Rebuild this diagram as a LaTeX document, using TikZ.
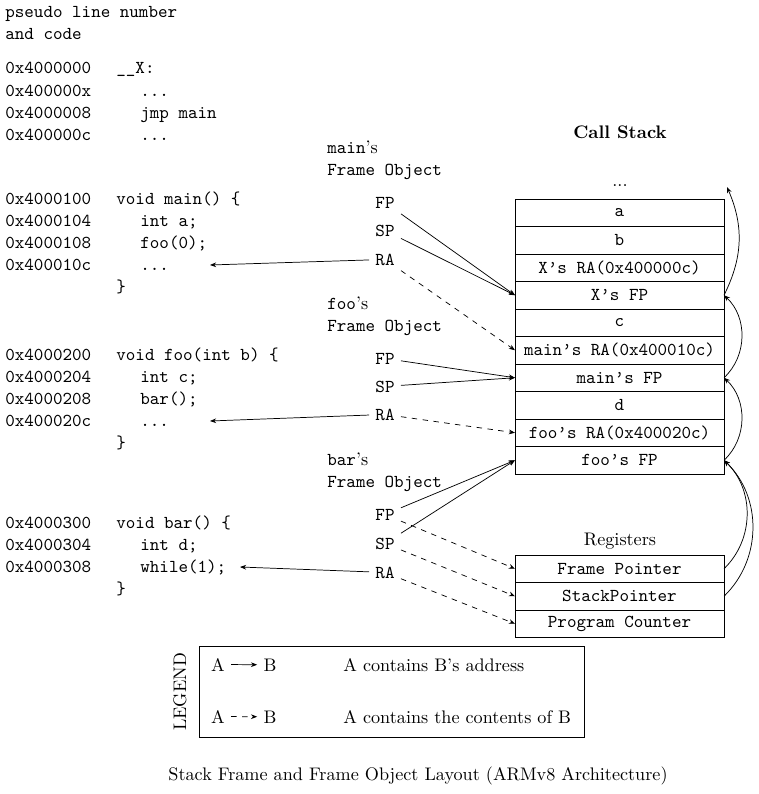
\documentclass[tikz,border=0pt]{standalone}
\usetikzlibrary{arrows.meta}
\newcommand{\tq}{\textquoteright}
\begin{document}
\begin{tikzpicture}[x=0.55pt,y=-0.55pt,
  code/.style={anchor=base west, inner sep=0pt, font=\ttfamily},
  label/.style={anchor=base west, inner sep=0pt, font=\ttfamily},
  ptr/.style={anchor=base, font=\ttfamily},
  cell/.style={draw, minimum width=114.95pt, minimum height=15.125pt, inner sep=0pt, outer sep=0pt, font=\ttfamily, anchor=north},
  addr/.style={-{Stealth[length=3.4pt,width=2.6pt]}},
  cont/.style={addr, dashed}
]
\useasboundingbox (0,0) rectangle (759,794);

% header of the code column
\node[code] (hd1) at (5,18) {pseudo line number};
\node[code] (hd2) at (5,40) {and code};

% startup code
\node[code] (a00) at (5,74)  {0x4000000};  \node[code] (c00) at (116,74)  {\char95\char95X:};
\node[code] (a01) at (5,96)  {0x400000x};  \node[code] (c01) at (140,96)  {...};
\node[code] (a02) at (5,118) {0x4000008};  \node[code] (c02) at (140,118) {jmp main};
\node[code] (a03) at (5,140) {0x400000c};  \node[code] (c03) at (140,140) {...};

% main
\node[code] (a10) at (5,204) {0x4000100};  \node[code] (c10) at (116,204) {void main() \char123};
\node[code] (a11) at (5,226) {0x4000104};  \node[code] (c11) at (140,226) {int a;};
\node[code] (a12) at (5,248) {0x4000108};  \node[code] (c12) at (140,248) {foo(0);};
\node[code] (a13) at (5,270) {0x400010c};  \node[code] (c13) at (140,270) {...};
\node[code] (c14) at (116,292) {\char125};
\coordinate (mainret) at (210,265);

% foo
\node[code] (a20) at (5,360) {0x4000200};  \node[code] (c20) at (116,360) {void foo(int b) \char123};
\node[code] (a21) at (5,382) {0x4000204};  \node[code] (c21) at (140,382) {int c;};
\node[code] (a22) at (5,404) {0x4000208};  \node[code] (c22) at (140,404) {bar();};
\node[code] (a23) at (5,426) {0x400020c};  \node[code] (c23) at (140,426) {...};
\node[code] (c24) at (116,448) {\char125};
\coordinate (fooret) at (210,421);

% bar
\node[code] (a30) at (5,528) {0x4000300};  \node[code] (c30) at (116,528) {void bar() \char123};
\node[code] (a31) at (5,550) {0x4000304};  \node[code] (c31) at (140,550) {int d;};
\node[code] (a32) at (5,572) {0x4000308};  \node[code] (c32) at (140,572) {while(1);};
\node[code] (c33) at (116,594) {\char125};
\coordinate (barret) at (240,567);

% frame objects
\node[label] (mlab1) at (327,153) {main{\rmfamily\tq s}};
\node[label] (mlab2) at (327,175) {Frame Object};
\node[ptr] (mfp) at (385,208) {FP};
\node[ptr] (msp) at (385,236) {SP};
\node[ptr] (mra) at (385,265) {RA};

\node[label] (flab1) at (327,309) {foo{\rmfamily\tq s}};
\node[label] (flab2) at (327,331) {Frame Object};
\node[ptr] (ffp) at (385,364) {FP};
\node[ptr] (fsp) at (385,392) {SP};
\node[ptr] (fra) at (385,420) {RA};

\node[label] (blab1) at (327,465) {bar{\rmfamily\tq s}};
\node[label] (blab2) at (327,487) {Frame Object};
\node[ptr] (bfp) at (385,520) {FP};
\node[ptr] (bsp) at (385,549) {SP};
\node[ptr] (bra) at (385,578) {RA};

% call stack
\node[font=\bfseries, anchor=base] (cstitle) at (620,138) {Call Stack};
\node[anchor=base] (csdots) at (620,186) {...};
\coordinate (stacktop) at (727,187);
\node[cell] (sa)   at (619.5,199) {a};
\node[cell] (sb)   at (sa.south)  {b};
\node[cell] (sxra) at (sb.south)  {X\tq s RA(0x400000c)};
\node[cell] (sxfp) at (sxra.south) {X\tq s FP};
\node[cell] (sc)   at (sxfp.south) {c};
\node[cell] (smra) at (sc.south)  {main\tq s RA(0x400010c)};
\node[cell] (smfp) at (smra.south) {main\tq s FP};
\node[cell] (sd)   at (smfp.south) {d};
\node[cell] (sfra) at (sd.south)  {foo\tq s RA(0x400020c)};
\node[cell] (sffp) at (sfra.south) {foo\tq s FP};

% registers
\node[anchor=base] (rtitle) at (620,545) {Registers};
\node[cell] (rfp) at (619.5,555) {Frame Pointer};
\node[cell] (rsp) at (rfp.south) {StackPointer};
\node[cell] (rpc) at (rsp.south) {Program Counter};

% pointers of main's frame
\draw[addr] (mfp) -- (sxfp.west);
\draw[addr] (msp) -- (sxfp.west);
\draw[cont] (mra) -- (smra.west);
\draw[addr] (mra) -- (mainret);

% pointers of foo's frame
\draw[addr] (ffp) -- (smfp.west);
\draw[addr] (fsp) -- (smfp.west);
\draw[cont] (fra) -- (sfra.west);
\draw[addr] (fra) -- (fooret);

% pointers of bar's frame
\draw[addr] (bfp) -- (sffp.west);
\draw[addr] (bsp) -- (sffp.west);
\draw[cont] (bfp) -- (rfp.west);
\draw[cont] (bsp) -- (rsp.west);
\draw[cont] (bra) -- (rpc.west);
\draw[addr] (bra) -- (barret);

% frame pointer chain
\draw[addr] (sxfp.east) to[bend right=25] (stacktop);
\draw[addr] (smfp.east) to[bend right=47] (sxfp.east);
\draw[addr] (sffp.east) to[bend right=47] (smfp.east);
\draw[addr] (rfp.east) to[bend right=46] (sffp.east);
\draw[addr] (rsp.east) to[bend right=46] (sffp.east);

% legend
\node[draw, minimum width=211.75pt, minimum height=50.05pt, inner sep=0pt] (legend) at (391.5,691.5) {};
\node[rotate=90] (legtitle) at (180,692) {LEGEND};
\node[anchor=base] (la1) at (218,671) {A};
\node[anchor=base] (lb1) at (270,671) {B};
\draw[addr] (la1) -- (lb1);
\node[anchor=base west, inner sep=0pt] (lt1) at (343,671) {A contains B\tq s address};
\node[anchor=base] (la2) at (218,723) {A};
\node[anchor=base] (lb2) at (270,723) {B};
\draw[cont] (la2) -- (lb2);
\node[anchor=base west, inner sep=0pt] (lt2) at (343,723) {A contains the contents of B};

% caption
\node[anchor=base] (caption) at (418,780) {Stack Frame and Frame Object Layout (ARMv8 Architecture)};
\end{tikzpicture}
\end{document}
